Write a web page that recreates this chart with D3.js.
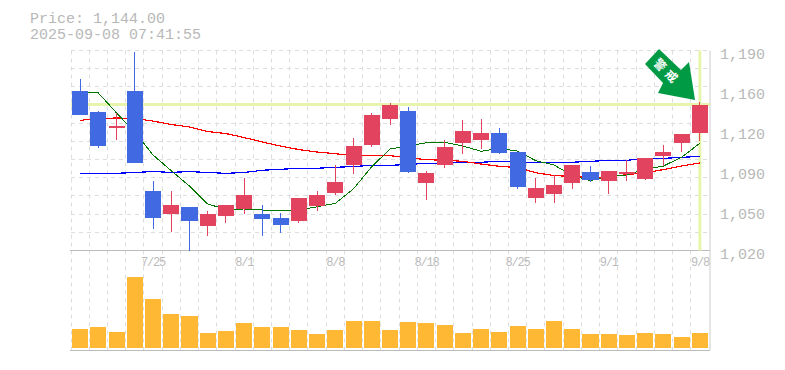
<!DOCTYPE html>
<html>
<head>
<meta charset="utf-8">
<script src="https://cdn.jsdelivr.net/npm/d3@7"></script>
<style>
body{margin:0;background:#fff;}
svg{display:block;}
text{font-family:"Liberation Mono",monospace;fill:#b8b8b8;}
</style>
</head>
<body>
<svg width="785" height="370"></svg>
<script>
var titleLines = ["Price: 1,144.00","2025-09-08 07:41:55"];
var lastPrice = 1144;

var dates = ["7/18","7/22","7/23","7/24","7/25","7/28","7/29","7/30","7/31","8/1","8/4","8/5","8/6","8/7","8/8","8/12","8/13","8/14","8/15","8/18","8/19","8/20","8/21","8/22","8/25","8/26","8/27","8/28","8/29","9/1","9/2","9/3","9/4","9/5","9/8"];
var dateTicks = ["7/25","8/1","8/8","8/18","8/25","9/1","9/8"];

var priceTicks = [1190,1156,1122,1088,1054,1020];
var priceLabels = ["1,190","1,160","1,120","1,090","1,050","1,020"];

var opens  = [1156,1138,1124,1156,1071,1051,1057,1041,1049,1055,1051,1048,1045,1058,1069,1093,1110,1132,1139,1077,1093,1111,1114,1120,1104,1065,1068,1077,1087,1079,1085,1081,1100,1111,1120];
var closes = [1135,1109,1126,1094,1048,1059,1045,1051,1059,1067,1047,1042,1065,1067,1078,1109,1135,1144,1087,1086,1108,1122,1120,1103,1074,1073,1076,1093,1080,1088,1087,1099,1104,1119,1144];
var highs  = [1166,1139,1137,1189,1079,1071,1057,1054,1059,1082,1059,1052,1065,1071,1093,1116,1137,1145,1142,1088,1114,1131,1132,1124,1104,1082,1084,1093,1092,1088,1097,1099,1110,1119,1146];
var lows   = [1135,1107,1114,1094,1038,1036,1020,1032,1043,1051,1032,1035,1043,1054,1067,1085,1108,1127,1086,1063,1090,1102,1106,1102,1072,1060,1060,1072,1078,1068,1079,1080,1092,1104,1113];

var maShort = [1153.9,1153.9,1136.9,1120.7,1101.2,1087.8,1074.8,1059.5,1055,1055.3,1054.4,1053.6,1054.4,1057.2,1060.1,1072.5,1091.2,1106.3,1108.8,1111.6,1111.9,1108.8,1104.3,1106.8,1104.5,1096.3,1092.7,1083.7,1079.3,1083.3,1084.2,1089.2,1091.8,1099.4,1111.1];
var maMid = [1130.6,1132.3,1132.6,1132.3,1130,1127.1,1125,1121.1,1119.4,1116,1112.2,1108.8,1105.8,1103.7,1102.3,1100.6,1100.6,1100.6,1098.9,1097.2,1096.7,1095.8,1093.5,1091.6,1090.5,1086.1,1083.7,1082.9,1082,1082.4,1084.6,1085.9,1088.8,1091.8,1094.4];
var maLong = [1085.6,1085.6,1085.6,1086.3,1087.1,1086.4,1087.1,1086.3,1085.6,1086.3,1088.2,1089,1089.9,1089.9,1090.7,1091.4,1092.4,1092.4,1093.1,1094.1,1094.1,1095,1095,1095.8,1095.2,1095,1095,1095,1095.8,1096.6,1096.6,1098.3,1098.3,1099.2,1100];

var volumes = [19,21,16,71,49,34,32,15,17,25,21,21,18,14,18,27,27,18,26,25,23,15,19,16,22,19,27,19,14,14,13,15,14,11,15];

var plotLeft = 71, plotRight = 709, plotTop = 50.5, plotBottom = 250.5, volBottom = 350.5;
var svg = d3.select('svg');

var x = d3.scaleBand().domain(dates).range([plotLeft,plotRight]).paddingInner(0.12).paddingOuter(0.06);
var y = d3.scaleLinear().domain([1020,1190]).range([plotBottom,plotTop]);
var yVol = d3.scaleLinear().domain([0,100]).range([348,248]);
var step = (plotRight-plotLeft)/dates.length;
function cx(d){return x(d)+x.bandwidth()/2;}

// grid
var grid = svg.append('g').attr('stroke','#ddd').attr('stroke-dasharray','4,4');
grid.selectAll('line.v').data(d3.range(0,dates.length)).enter().append('line')
    .attr('class','v')
    .attr('x1',function(d){return Math.round(plotLeft+d*step-0.5)+0.5})
    .attr('x2',function(d){return Math.round(plotLeft+d*step-0.5)+0.5})
    .attr('y1',plotTop).attr('y2',volBottom);
grid.selectAll('line.h').data(d3.range(0,11)).enter().append('line')
    .attr('class','h')
    .attr('x1',plotLeft).attr('x2',plotRight)
    .attr('y1',function(d){return Math.round(plotTop+d*200/11-0.5)+0.5})
    .attr('y2',function(d){return Math.round(plotTop+d*200/11-0.5)+0.5});

// panel frame
var frame = svg.append('g').attr('stroke','#bbb');
frame.append('line').attr('x1',plotLeft-1).attr('x2',plotRight+1).attr('y1',plotBottom).attr('y2',plotBottom);
frame.append('line').attr('x1',plotLeft-1).attr('x2',plotRight+1).attr('y1',volBottom).attr('y2',volBottom);
frame.append('line').attr('x1',plotRight+1).attr('x2',plotRight+1).attr('y1',plotTop).attr('y2',volBottom).attr('stroke','#ccc');

// last price and last date highlight
svg.append('line').attr('x1',plotLeft).attr('x2',plotRight+1).attr('y1',y(lastPrice)).attr('y2',y(lastPrice))
    .attr('stroke','#e6f5ab').attr('stroke-width',3);
svg.append('line').attr('x1',cx("9/8")).attr('x2',cx("9/8")).attr('y1',plotTop).attr('y2',plotBottom)
    .attr('stroke','#e6f5ab').attr('stroke-width',3);

// moving averages
var line = d3.line().x(function(d,i){return cx(dates[i])}).y(function(d){return y(d)});
var maList = [[maLong,'#0000ff',1.2],[maMid,'#ff0000',1.2],[maShort,'#007700',1]];
maList.forEach(function(m){
    svg.append('path').attr('d',line(m[0])).attr('fill','none')
        .attr('stroke',m[1]).attr('stroke-width',m[2]).attr('shape-rendering','crispEdges');
});

// candles
var candle = svg.append('g').selectAll('g').data(dates).enter().append('g')
    .attr('shape-rendering','crispEdges')
    .attr('fill',function(d,i){return closes[i]>=opens[i]?'#e2445f':'#4169e1'});
candle.append('rect')
    .attr('x',function(d){return cx(d)-0.5})
    .attr('width',1)
    .attr('y',function(d,i){return y(highs[i])})
    .attr('height',function(d,i){return y(lows[i])-y(highs[i])});
candle.append('rect')
    .attr('x',function(d){return x(d)})
    .attr('width',x.bandwidth())
    .attr('y',function(d,i){return y(Math.max(opens[i],closes[i]))})
    .attr('height',function(d,i){return Math.max(2,Math.abs(y(opens[i])-y(closes[i])))});

// volume
svg.append('g').selectAll('rect').data(volumes).enter().append('rect')
    .attr('shape-rendering','crispEdges')
    .attr('fill','#ffb833')
    .attr('x',function(d,i){return x(dates[i])})
    .attr('width',x.bandwidth())
    .attr('y',function(d){return yVol(d)})
    .attr('height',function(d){return yVol(0)-yVol(d)});

// axes
var yAxis = svg.append('g').attr('transform','translate(711,0)')
    .call(d3.axisRight(y).tickValues(priceTicks).tickSize(0)
        .tickFormat(function(d,i){return priceLabels[i]}));
yAxis.select('.domain').remove();
yAxis.selectAll('text').attr('x',9).attr('dy','0.5em').attr('font-size',15).style('font-family','"Liberation Mono",monospace').style('fill','#b8b8b8');

var xAxis = svg.append('g').attr('transform','translate(0,'+plotBottom+')')
    .call(d3.axisBottom(x).tickValues(dateTicks).tickSize(0));
xAxis.select('.domain').remove();
xAxis.selectAll('text').attr('y',7).attr('font-size',12).attr('letter-spacing','-1.2px')
    .style('font-family','"Liberation Mono",monospace').style('fill','#bbb');

// title
svg.append('g').selectAll('text').data(titleLines).enter().append('text')
    .attr('x',30)
    .attr('y',function(d,i){return 23+i*16})
    .attr('font-size',15)
    .text(function(d){return d});

// arrow mark
svg.append('polygon')
    .attr('points','659,49 645,64 663,83 658,93 695,100 689,62 681,70')
    .attr('fill','#009944');
svg.append('text')
    .attr('transform','translate(667,72) rotate(45)')
    .attr('text-anchor','middle').attr('dy','0.35em')
    .attr('font-size',12).attr('font-weight','bold').attr('letter-spacing','4px')
    .style('font-family','"Noto Sans CJK JP"').style('fill','#fff')
    .text('警戒');
</script>
</body>
</html>
